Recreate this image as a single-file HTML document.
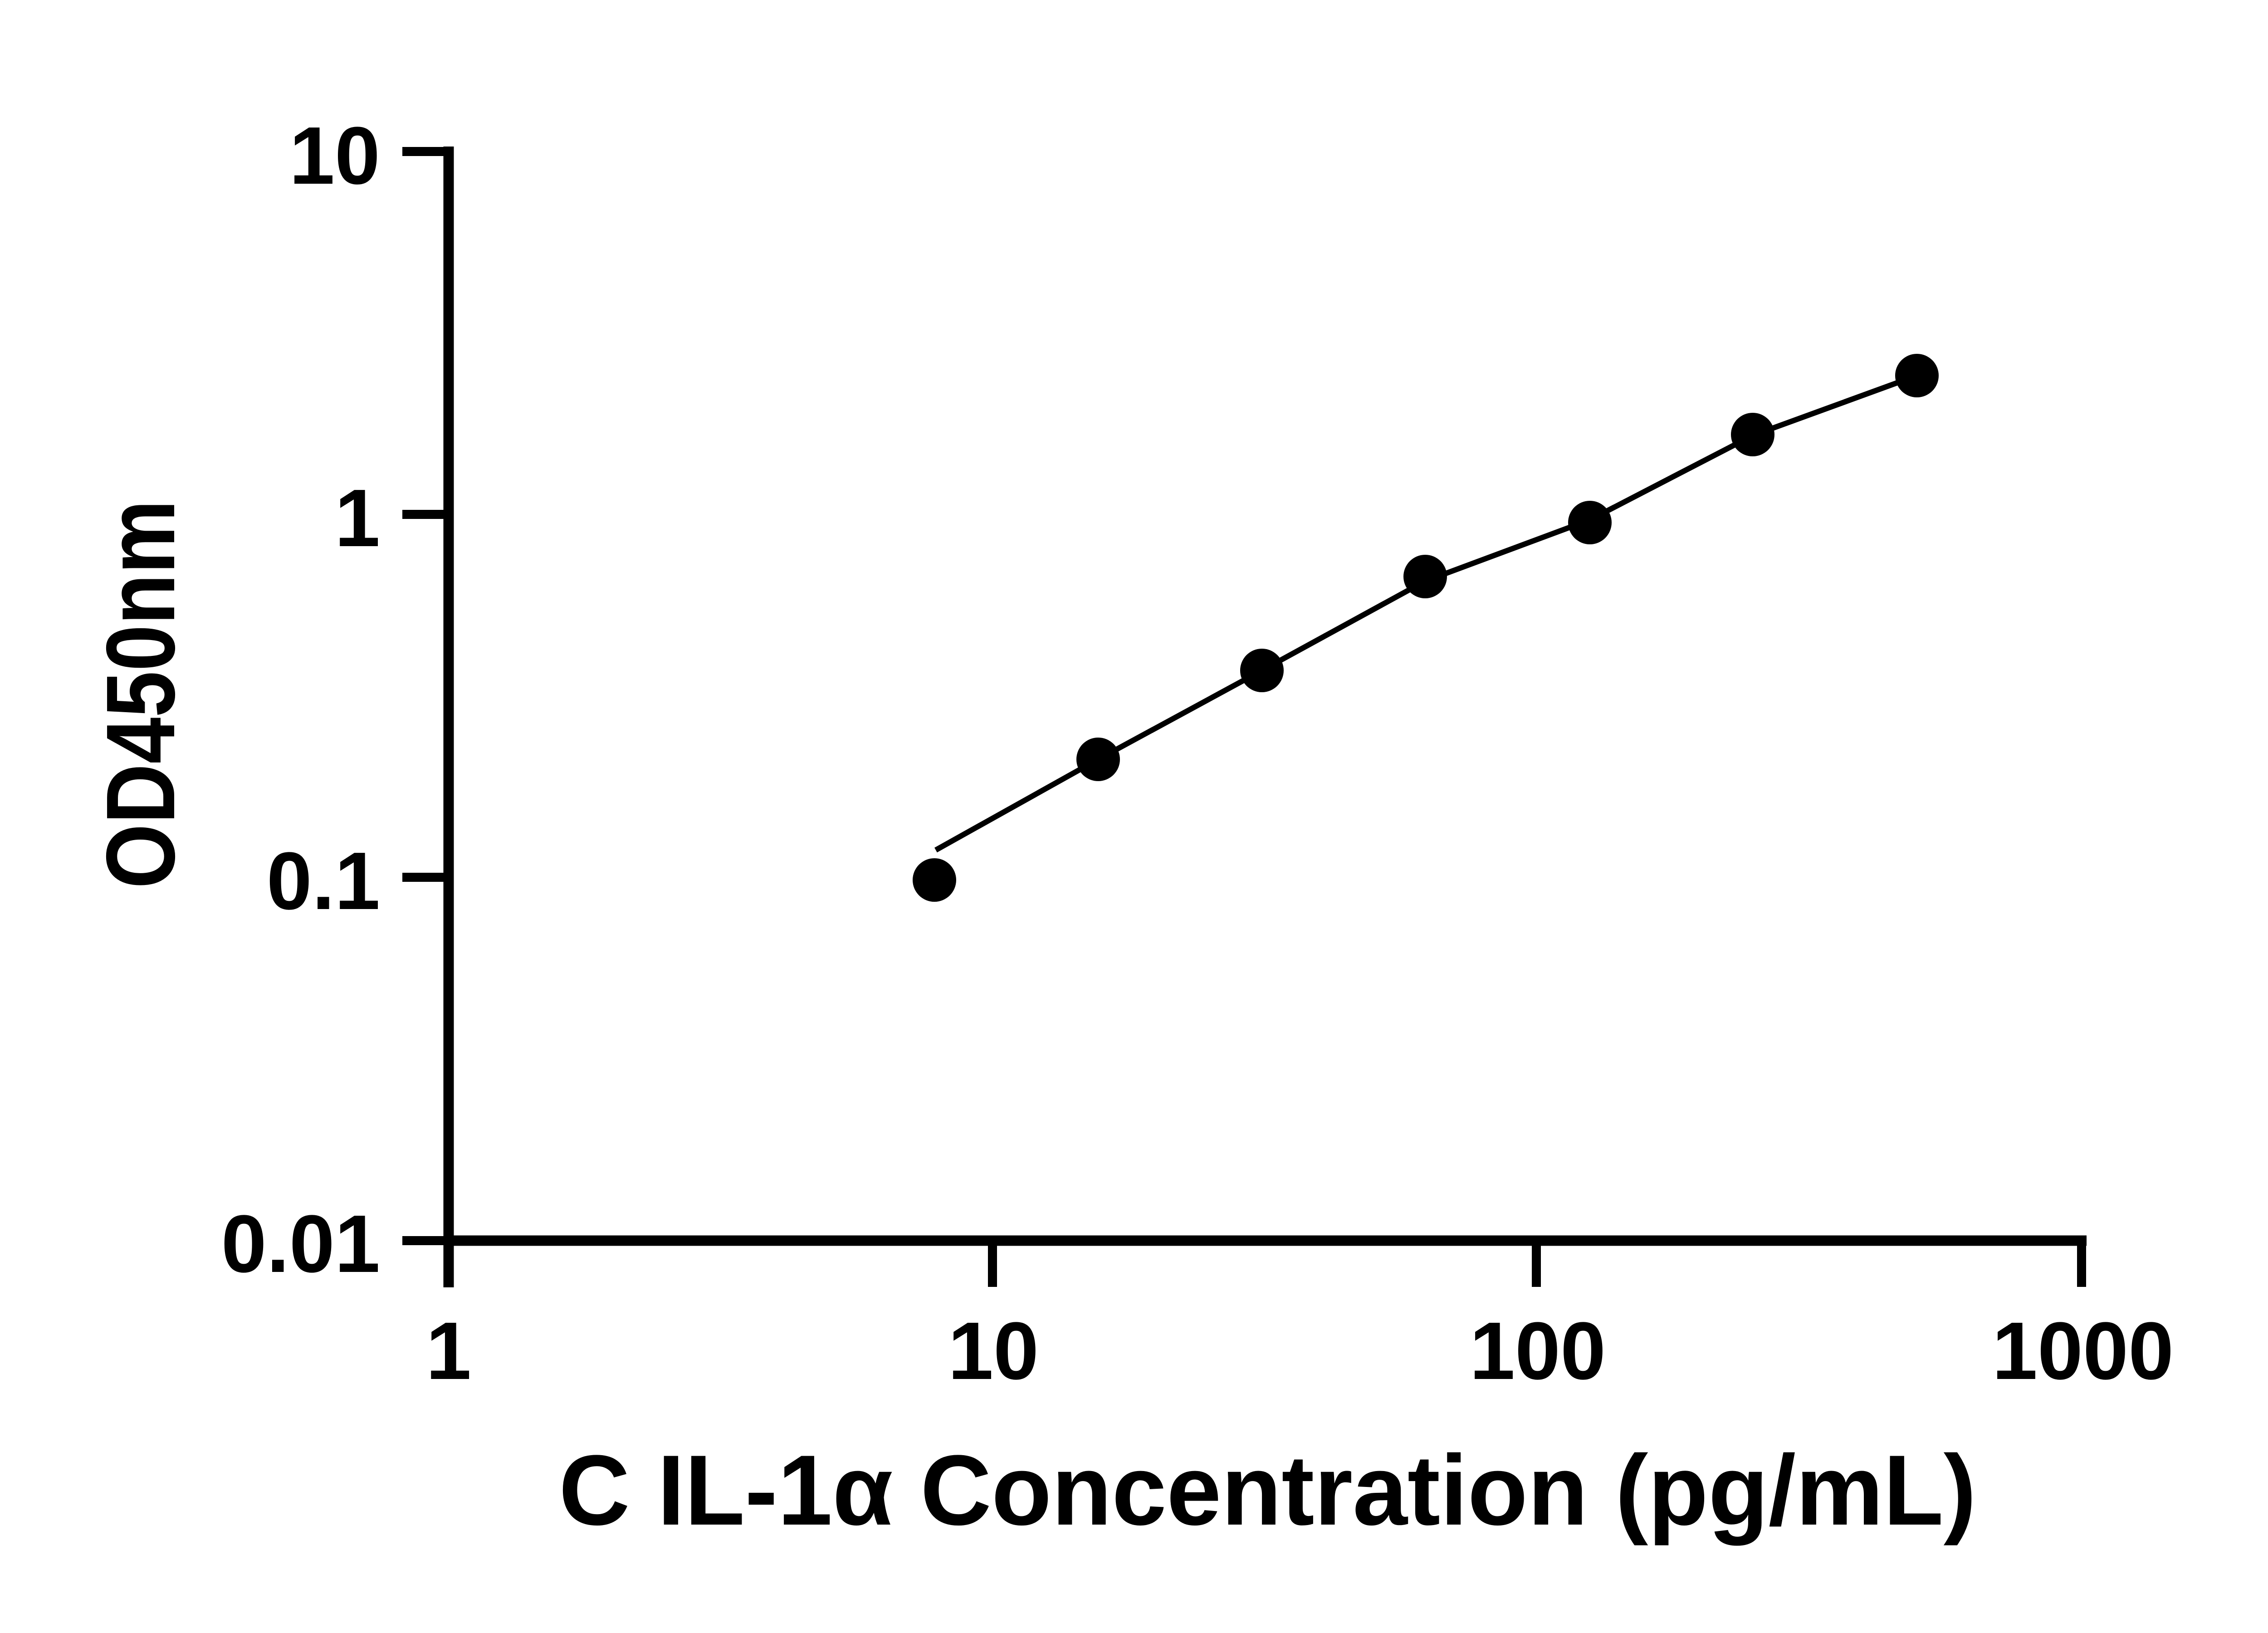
<!DOCTYPE html>
<html><head><meta charset="utf-8"><style>html,body{margin:0;padding:0;background:#fff}svg{display:block}</style></head>
<body>
<svg width="5142" height="3600" viewBox="0 0 5142 3600" xmlns="http://www.w3.org/2000/svg">
<rect width="5142" height="3600" fill="#fff"/>
<g stroke="#000" fill="none">
<line x1="989" y1="323" x2="989" y2="2838" stroke-width="23"/>
<line x1="978" y1="2735" x2="4600" y2="2735" stroke-width="23"/>
<g stroke-width="20">
<line x1="887" y1="334" x2="989" y2="334"/>
<line x1="887" y1="1134" x2="989" y2="1134"/>
<line x1="887" y1="1934" x2="989" y2="1934"/>
<line x1="887" y1="2735" x2="989" y2="2735"/>
<line x1="2188" y1="2735" x2="2188" y2="2837"/>
<line x1="3387" y1="2735" x2="3387" y2="2837"/>
<line x1="4589" y1="2735" x2="4589" y2="2837"/>
</g>
<polyline stroke-width="12" points="2063,1874 2421,1674 2782,1478 3142,1281 3505,1146 3864,960 4226,828"/>
</g>
<g fill="#000">
<circle cx="2060" cy="1940" r="48"/>
<circle cx="2421" cy="1674" r="48"/>
<circle cx="2782" cy="1478" r="48"/>
<circle cx="3142" cy="1271" r="48"/>
<circle cx="3505" cy="1152" r="48"/>
<circle cx="3864" cy="958" r="48"/>
<circle cx="4226" cy="828" r="48"/>
</g>
<g font-family="Liberation Sans, sans-serif" font-weight="bold" font-size="180" fill="#000">
<g text-anchor="end">
<text x="838" y="405">10</text>
<text x="838" y="1204">1</text>
<text x="838" y="2004">0.1</text>
<text x="838" y="2804">0.01</text>
</g>
<g text-anchor="middle">
<text x="989" y="3040">1</text>
<text x="2190" y="3040">10</text>
<text x="3390" y="3040">100</text>
<text x="4592" y="3040">1000</text>
</g>
<text x="1232" y="3361" font-size="220" textLength="3125" lengthAdjust="spacingAndGlyphs">C IL-1α Concentration (pg/mL)</text>
<text transform="translate(384,1959) rotate(-90)" font-size="215" textLength="857" lengthAdjust="spacingAndGlyphs">OD450nm</text>
</g>
</svg>
</body></html>
